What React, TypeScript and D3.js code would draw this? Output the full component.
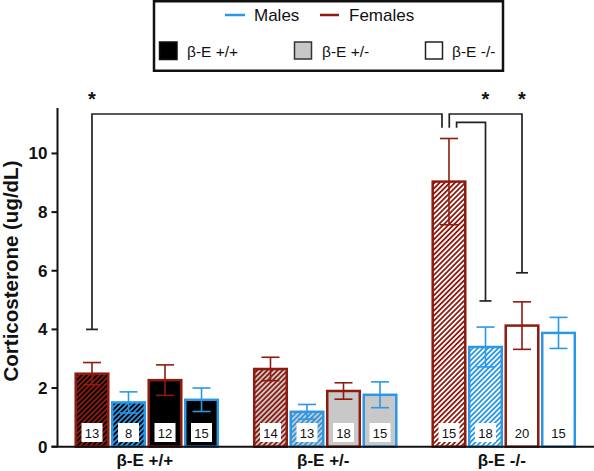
import React from "react";
import * as d3 from "d3";

const groups = ["β-E +/+", "β-E +/-", "β-E -/-"];
const barKeys = ["femaleHatched", "maleHatched", "female", "male"];
const barSex = ["F", "M", "F", "M"];
const barHatched = [true, true, false, false];
const means = [
  [2.49, 1.51, 2.27, 1.6],
  [2.65, 1.19, 1.9, 1.77],
  [9.04, 3.4, 4.13, 3.88],
];
const errors = [
  [0.38, 0.36, 0.52, 0.4],
  [0.4, 0.25, 0.28, 0.44],
  [1.47, 0.68, 0.81, 0.53],
];
const counts = [
  [13, 8, 12, 15],
  [14, 13, 18, 15],
  [15, 18, 20, 15],
];
const genotypeFill = ["#000000", "#c8c8c8", "#ffffff"];
const yTicks = [0, 2, 4, 6, 8, 10];
// significance brackets
const brackets = [
  { g1: 0, b1: 0, g2: 2, b2: 0, v1: 4.0 as number | null, v2: null as number | null, level: 0, star: "left" },
  { g1: 2, b1: 0, g2: 2, b2: 2, v1: null as number | null, v2: 5.93 as number | null, level: 0, star: "right" },
  { g1: 2, b1: 0, g2: 2, b2: 1, v1: null as number | null, v2: 4.97 as number | null, level: 1, star: "right" },
];

const RED = "#8e1b10";
const BLUE = "#2a98e6";
const FONT = "'Liberation Sans', Arial, Helvetica, sans-serif";

export default function App() {
  const W = 594;
  const H = 471;
  const axisX = 57.5;
  const y = d3.scaleLinear().domain([0, 11.55]).range([446.7, 108]);
  const x0 = d3.scaleBand<string>().domain(groups).range([axisX, 593]).paddingInner(0.19).paddingOuter(0.095);
  const x1 = d3.scaleBand<string>().domain(barKeys).range([0, x0.bandwidth()]).paddingInner(0.04);
  const bw = x1.bandwidth();
  const barCx = (g: number, b: number) => (x0(groups[g]) as number) + (x1(barKeys[b]) as number) + bw / 2;

  const bars: React.ReactNode[] = [];
  groups.forEach((gName, gi) => {
    barKeys.forEach((k, bi) => {
      const color = barSex[bi] === "F" ? RED : BLUE;
      const bx = (x0(gName) as number) + (x1(k) as number);
      const top = y(means[gi][bi]);
      const base = y(0);
      const fill = barHatched[bi] ? `url(#hatch-${gi}-${bi})` : genotypeFill[gi];
      const cx = bx + bw / 2;
      const eTop = y(means[gi][bi] + errors[gi][bi]);
      const eBot = y(means[gi][bi] - errors[gi][bi]);
      bars.push(
        <g key={`${gi}-${bi}`}>
          <rect x={bx + 1.25} y={top} width={bw - 2.5} height={base - top} fill={fill} stroke={color} strokeWidth={2.5} />
          <line x1={cx} x2={cx} y1={eTop} y2={eBot} stroke={color} strokeWidth={1.6} />
          <line x1={cx - 9} x2={cx + 9} y1={eTop} y2={eTop} stroke={color} strokeWidth={1.6} />
          <line x1={cx - 9} x2={cx + 9} y1={eBot} y2={eBot} stroke={color} strokeWidth={1.6} />
          <rect x={cx - 10.5} y={423} width={21} height={19} fill="#ffffff" />
          <text x={cx} y={437.5} textAnchor="middle" fontSize={13} fontFamily={FONT} fill="#111">
            {counts[gi][bi]}
          </text>
        </g>
      );
    });
  });

  const defs: React.ReactNode[] = [];
  groups.forEach((_, gi) => {
    barKeys.forEach((_, bi) => {
      if (!barHatched[bi]) return;
      const color = barSex[bi] === "F" ? RED : BLUE;
      defs.push(
        <pattern key={`p${gi}${bi}`} id={`hatch-${gi}-${bi}`} patternUnits="userSpaceOnUse" width={3.6} height={3.6} patternTransform="rotate(45)">
          <rect x={0} y={0} width={3.6} height={3.6} fill={genotypeFill[gi]} />
          <rect x={0} y={0} width={1.8} height={3.6} fill={color} />
        </pattern>
      );
    });
  });

  const levelY = [114, 122.3];
  const bracketEls = brackets.map((br, i) => {
    const ly = levelY[br.level];
    const leftStart = br.v1 != null ? y(br.v1) : 127.7;
    const rightEnd = br.v2 != null ? y(br.v2) : 127.7;
    const xLeft = br.g1 === 0 ? barCx(br.g1, br.b1) : barCx(2, 0) + (br.level === 0 ? 0.3 : 7.6);
    const xRight = br.g2 === 2 && br.b2 === 0 ? barCx(2, 0) - 7 : barCx(br.g2, br.b2);
    const path = `M${xLeft},${leftStart}V${ly}H${xRight}V${rightEnd}`;
    const starX = br.star === "left" ? xLeft : xRight;
    return (
      <g key={`br${i}`}>
        <path d={path} fill="none" stroke="#222" strokeWidth={1.7} />
        {br.v1 != null && <line x1={xLeft - 6} x2={xLeft + 6} y1={leftStart} y2={leftStart} stroke="#222" strokeWidth={1.7} />}
        {br.v2 != null && <line x1={xRight - 6} x2={xRight + 6} y1={rightEnd} y2={rightEnd} stroke="#222" strokeWidth={1.7} />}
        <text x={starX} y={106} textAnchor="middle" fontSize={20} fontFamily={FONT} fontWeight="bold" fill="#111">
          *
        </text>
      </g>
    );
  });

  return (
    <svg width={W} height={H} style={{ position: "absolute", left: 0, top: 0, background: "#fff" }}>
      <defs>{defs}</defs>
      <rect x={0} y={0} width={W} height={H} fill="#fff" />
      {/* legend */}
      <g fontFamily={FONT} fill="#111">
        <rect x={154} y={1.25} width={349} height={69.5} fill="#fff" stroke="#111" strokeWidth={2.5} />
        <line x1={225} x2={245} y1={15} y2={15} stroke={BLUE} strokeWidth={2.5} />
        <text x={254} y={21} fontSize={17}>Males</text>
        <line x1={320} x2={339} y1={15} y2={15} stroke={RED} strokeWidth={2.5} />
        <text x={349} y={21} fontSize={17}>Females</text>
        <rect x={159.5} y={42} width={17.5} height={17.5} fill="#000" stroke="#111" strokeWidth={1.5} />
        <text x={187} y={56.5} fontSize={15.5}>β-E +/+</text>
        <rect x={294.5} y={42} width={17} height={17} fill="#c8c8c8" stroke="#333" strokeWidth={1.5} />
        <text x={322} y={56.5} fontSize={15.5}>β-E +/-</text>
        <rect x={425.5} y={42} width={17} height={17} fill="#fff" stroke="#222" strokeWidth={1.5} />
        <text x={452} y={56.5} fontSize={15.5}>β-E -/-</text>
      </g>
      {bracketEls}
      {bars}
      {/* axes */}
      <line x1={axisX} x2={axisX} y1={108} y2={y(0)} stroke="#111" strokeWidth={2} />
      <line x1={axisX - 6} x2={594} y1={y(0)} y2={y(0)} stroke="#111" strokeWidth={2} />
      {yTicks.map((t) => (
        <g key={t}>
          <line x1={axisX - 6} x2={axisX} y1={y(t)} y2={y(t)} stroke="#111" strokeWidth={2} />
          <text x={47.5} y={y(t) + 6} textAnchor="end" fontSize={17} fontWeight="bold" fontFamily={FONT} fill="#111">
            {t}
          </text>
        </g>
      ))}
      <text
        transform={`translate(17.5,271) rotate(-90)`}
        textAnchor="middle"
        fontSize={20.5}
        fontWeight="bold"
        fontFamily={FONT}
        fill="#111"
      >
        Corticosterone (ug/dL)
      </text>
      {groups.map((g) => (
        <text
          key={g}
          x={(x0(g) as number) + x0.bandwidth() / 2 - 2}
          y={466}
          textAnchor="middle"
          fontSize={17}
          fontWeight="bold"
          fontFamily={FONT}
          fill="#111"
        >
          {g}
        </text>
      ))}
    </svg>
  );
}
